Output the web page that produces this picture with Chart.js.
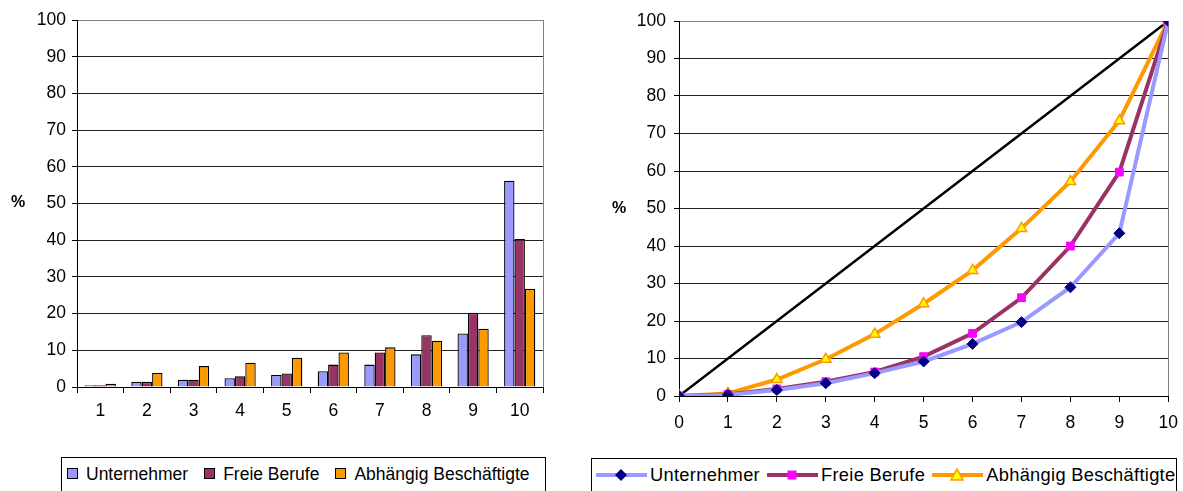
<!DOCTYPE html>
<html>
<head>
<meta charset="utf-8">
<script src="https://cdn.jsdelivr.net/npm/chart.js@4.4.1/dist/chart.umd.min.js"></script>
<style>
  body { margin: 0; background: #fff; width: 1183px; height: 491px; overflow: hidden; position: relative; font-family: "Liberation Sans", Arial, sans-serif; }
  canvas { position: absolute; }
  .pct { position: absolute; font-weight: bold; font-size: 16px; }
  .legend { position: absolute; border: 1px solid #000; background: #fff; font-size: 17.5px; line-height: 20px; display: flex; white-space: nowrap; box-sizing: border-box; height: 50px; align-items: flex-start; }
  .item { display: flex; align-items: center; height: 20px; }
  .box { width: 9px; height: 9px; border: 1px solid #000; margin-right: 8px; }
</style>
</head>
<body>
<canvas id="barChart" width="560" height="440" style="left:0;top:0"></canvas>
<canvas id="lorenzChart" width="609" height="450" style="left:580px;top:0"></canvas>
<div class="pct" style="left:11px;top:193px">%</div>
<div class="pct" style="left:612px;top:199px">%</div>
<div id="legendBar" class="legend" style="left:61px;top:457px;width:485px;padding:5.5px 0 0 5px"></div>
<div id="legendLine" class="legend" style="left:591px;top:458px;width:586px;padding:5.5px 0 0 4px;font-size:18.3px;letter-spacing:0.3px"></div>
<script>
// Data
const deciles = ['1', '2', '3', '4', '5', '6', '7', '8', '9', '10'];
const shareUnternehmer = [0.5, 1.4, 2.0, 2.4, 3.3, 4.3, 6.1, 8.9, 14.6, 56.2];
const shareFreie = [0.5, 1.4, 2.0, 2.9, 3.7, 6.1, 9.4, 14.1, 20.2, 40.3];
const shareAbhaengig = [0.9, 3.8, 5.7, 6.6, 8.0, 9.4, 10.8, 12.6, 15.9, 26.8];

const lorenzX = [0, 1, 2, 3, 4, 5, 6, 7, 8, 9, 10];
const cumUnternehmer = [0, 0.3, 1.6, 3.4, 6.1, 9.2, 13.9, 19.7, 29.0, 43.4, 100];
const cumFreie = [0, 0.4, 1.9, 3.8, 6.4, 10.5, 16.7, 26.2, 40.0, 59.7, 100];
const cumAbhaengig = [0, 0.7, 4.4, 9.8, 16.5, 24.6, 33.5, 44.7, 57.2, 73.4, 100];
const equality = [0, 10, 20, 30, 40, 50, 60, 70, 80, 90, 100];

const names = ['Unternehmer', 'Freie Berufe', 'Abhängig Beschäftigte'];

// Colors
const BLUE = '#9999FF';
const PLUM = '#993366';
const ORANGE = '#FF9900';

const FONT = { family: '"Liberation Sans", Arial, sans-serif', size: 17.5 };
Chart.defaults.color = '#000';
Chart.defaults.font = FONT;

function yAxis(width, pad) {
    return {
        min: 0, max: 100,
        ticks: { stepSize: 10, padding: pad, font: FONT },
        grid: { color: c => c.tick && c.tick.value === 100 ? '#808080' : '#222', tickColor: '#000', tickLength: 5 },
        border: { color: '#000' },
        afterFit: s => { s.width = width; }
    };
}

// Bar chart (Dezile)
new Chart(document.getElementById('barChart'), {
    type: 'bar',
    data: {
        labels: deciles,
        datasets: [
            { label: names[0], data: shareUnternehmer, backgroundColor: BLUE },
            { label: names[1], data: shareFreie, backgroundColor: PLUM },
            { label: names[2], data: shareAbhaengig, backgroundColor: ORANGE }
        ].map(d => Object.assign(d, { borderColor: '#000', borderWidth: 1.3, categoryPercentage: 0.67, barPercentage: 1 }))
    },
    options: {
        responsive: false, animation: false, devicePixelRatio: 1,
        layout: { padding: { left: 0, right: 17, top: 20, bottom: 0 } },
        plugins: { legend: { display: false }, tooltip: { enabled: false } },
        scales: {
            x: {
                ticks: { padding: 8, font: FONT },
                grid: { color: c => c.type === 'scale' ? '#808080' : 'rgba(0,0,0,0)', tickColor: '#000', tickLength: 6 },
                border: { color: '#000' },
                afterFit: s => { s.height = 53; }
            },
            y: yAxis(77, 6)
        }
    }
});

// Lorenz curves
const pts = arr => arr.map((v, i) => ({ x: lorenzX[i], y: v }));
new Chart(document.getElementById('lorenzChart'), {
    type: 'line',
    data: {
        datasets: [
            { label: 'Gleichverteilung', data: pts(equality), borderColor: '#000', borderWidth: 2.5, pointRadius: 0 },
            { label: names[2], data: pts(cumAbhaengig), borderColor: ORANGE, borderWidth: 4, pointStyle: 'triangle', pointRadius: 6, pointBackgroundColor: '#FFFF00', pointBorderColor: ORANGE, pointBorderWidth: 1.5 },
            { label: names[1], data: pts(cumFreie), borderColor: PLUM, borderWidth: 4, pointStyle: 'rect', pointRadius: 5.5, pointBackgroundColor: '#FF00FF', pointBorderColor: '#FF00FF', pointBorderWidth: 1 },
            { label: names[0], data: pts(cumUnternehmer), borderColor: BLUE, borderWidth: 4, pointStyle: 'rectRot', pointRadius: 5.5, pointBackgroundColor: '#000080', pointBorderColor: '#000080', pointBorderWidth: 1 }
        ].reverse().map((d, i) => Object.assign(d, { order: i, tension: 0 }))
    },
    options: {
        responsive: false, animation: false, devicePixelRatio: 1,
        layout: { padding: { left: 0, right: 9, top: 21, bottom: 0 } },
        plugins: { legend: { display: false }, tooltip: { enabled: false } },
        scales: {
            x: {
                type: 'linear', min: 0, max: 10,
                ticks: { stepSize: 1, padding: 11, font: FONT },
                grid: { color: c => c.tick && c.tick.value === 10 ? '#808080' : 'rgba(0,0,0,0)', tickColor: '#000', tickLength: 6 },
                border: { color: '#000' },
                afterFit: s => { s.height = 54; }
            },
            y: yAxis(99, 8)
        }
    }
});

// Legends
const legendBar = document.getElementById('legendBar');
[BLUE, PLUM, ORANGE].forEach((col, i) => {
    const it = document.createElement('div');
    it.className = 'item';
    it.style.marginRight = '16px';
    it.innerHTML = `<span class="box" style="background:${col}"></span><span>${names[i]}</span>`;
    legendBar.appendChild(it);
});

const legendLine = document.getElementById('legendLine');
const markers = [
    `<svg width="51" height="14"><line x1="0" y1="7" x2="51" y2="7" stroke="${BLUE}" stroke-width="4"/><polygon points="25,1 31,7 25,13 19,7" fill="#000080"/></svg>`,
    `<svg width="51" height="14"><line x1="0" y1="7" x2="51" y2="7" stroke="${PLUM}" stroke-width="4"/><rect x="20.5" y="2.5" width="9" height="9" fill="#FF00FF"/></svg>`,
    `<svg width="51" height="14"><line x1="0" y1="7" x2="51" y2="7" stroke="${ORANGE}" stroke-width="4"/><polygon points="25,1 31,12 19,12" fill="#FFFF00" stroke="${ORANGE}" stroke-width="1.5"/></svg>`
];
markers.forEach((m, i) => {
    const it = document.createElement('div');
    it.className = 'item';
    it.style.marginRight = '7px';
    it.innerHTML = `${m}<span style="margin-left:3px">${names[i]}</span>`;
    legendLine.appendChild(it);
});
</script>
</body>
</html>
